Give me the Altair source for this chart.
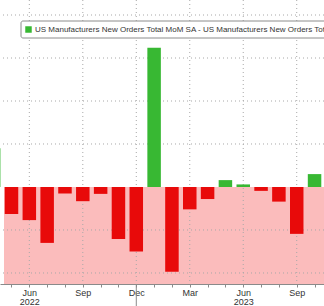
import altair as alt
import pandas as pd

# ---- data (units = one gridline step) ----
months = ["Apr", "May", "Jun", "Jul", "Aug", "Sep", "Oct", "Nov", "Dec",
          "Jan", "Feb", "Mar", "Apr", "May", "Jun", "Jul", "Aug", "Sep", "Oct"]
years = [2022] * 9 + [2023] * 10
values = [0.90, -0.63, -0.77, -1.30, -0.15, -0.33, -0.16, -1.21, -1.50,
          3.24, -1.97, -0.52, -0.28, 0.16, 0.06, -0.09, -0.34, -1.09, 0.30]
series_name = ("US Manufacturers New Orders Total MoM SA - "
               "US Manufacturers New Orders Total MoM Survey")

# labelled ticks: index -> (month, year or "")
tick_labels = {2: ("Jun", "2022"), 5: ("Sep", ""), 8: ("Dec", ""),
               11: ("Mar", ""), 14: ("Jun", "2023"), 17: ("Sep", "")}
grid_x = [2, 5, 8, 11, 14, 17]
grid_y = [-2, -1, 1, 2, 3, 4]
year_sep = [8]
band = {"start": [0.58], "end": [18.53]}

X_DOMAIN = [0.355, 18.53]
Y_DOMAIN = [-2.256, 4.349]
W, H = 324, 284

GREEN = "#38b833"
RED = "#e80a0a"
PINK = "#fbbcbc"
GRID = "#a8a8a8"

df = pd.DataFrame({"idx": list(range(len(values))), "month": months,
                   "year": years, "value": values})

xs = alt.Scale(domain=X_DOMAIN, nice=False, zero=False, padding=0)
ys = alt.Scale(domain=Y_DOMAIN, nice=False, zero=False, padding=0)

# label expression built from tick_labels
parts = []
for k, (m, yv) in tick_labels.items():
    if yv:
        parts.append(f"datum.value == {k} ? ['{m}', '{yv}']")
    else:
        parts.append(f"datum.value == {k} ? '{m}'")
label_expr = " : ".join(parts) + " : ''"

x_axis = alt.Axis(
    values=list(range(len(values))), labelExpr=label_expr, grid=False,
    domainColor="#8a8a8a", tickColor="#8a8a8a", tickSize=3,
    labelFontSize=9, labelColor="#333333", labelFont="Liberation Sans",
    labelPadding=1, labelLineHeight=9, labelFlush=False, labelOverlap=False,
    title=None)

band_layer = alt.Chart(pd.DataFrame(band)).mark_rect(color=PINK).encode(
    x=alt.X("start:Q", scale=xs, axis=x_axis),
    x2="end:Q",
    y=alt.Y("lo:Q", scale=ys, axis=None),
    y2="hi:Q",
).transform_calculate(lo=str(Y_DOMAIN[0]), hi="0")

vgrid = alt.Chart(pd.DataFrame({"g": grid_x})).mark_rule(
    color=GRID, strokeDash=[1, 3], strokeWidth=1).encode(
    x=alt.X("g:Q", scale=xs, axis=x_axis))

hgrid = alt.Chart(pd.DataFrame({"g": grid_y})).mark_rule(
    color=GRID, strokeDash=[1, 3], strokeWidth=1).encode(
    y=alt.Y("g:Q", scale=ys, axis=None))

bars = alt.Chart(df).mark_bar(size=13.5).encode(
    x=alt.X("idx:Q", scale=xs, axis=x_axis),
    y=alt.Y("value:Q", scale=ys, axis=None),
    color=alt.condition(alt.datum.value > 0, alt.value(GREEN), alt.value(RED)),
)

sep = alt.Chart(pd.DataFrame({"s": year_sep})).mark_rule(
    color="#8a8a8a", strokeWidth=1).encode(
    x=alt.X("s:Q", scale=xs, axis=x_axis),
    y=alt.value(H), y2=alt.value(H + 22))

leg_df = pd.DataFrame({"t": [series_name]})
leg_box = alt.Chart(leg_df).mark_rect(
    fill="white", stroke="#8c8c8c", strokeWidth=1, cornerRadius=2, clip=True).encode(
    x=alt.value(21), x2=alt.value(360), y=alt.value(21), y2=alt.value(38))
leg_sq = alt.Chart(leg_df).mark_square(
    color=GREEN, size=42, opacity=1, clip=True).encode(
    x=alt.value(28.5), y=alt.value(29.5))
leg_txt = alt.Chart(leg_df).mark_text(
    align="left", baseline="middle", fontSize=8, font="Liberation Sans",
    color="#333333", clip=True).encode(
    x=alt.value(35), y=alt.value(30), text="t:N")

chart = alt.layer(band_layer, vgrid, hgrid, bars, sep, leg_box, leg_sq, leg_txt).properties(
    width=W, height=H,
    padding={"left": 0, "top": 0, "right": 0, "bottom": 22},
    autosize=alt.AutoSizeParams(type="none"),
    background="white",
).configure_view(strokeWidth=0)

chart.save("out.html", embed_options={"renderer": "svg", "actions": False})
